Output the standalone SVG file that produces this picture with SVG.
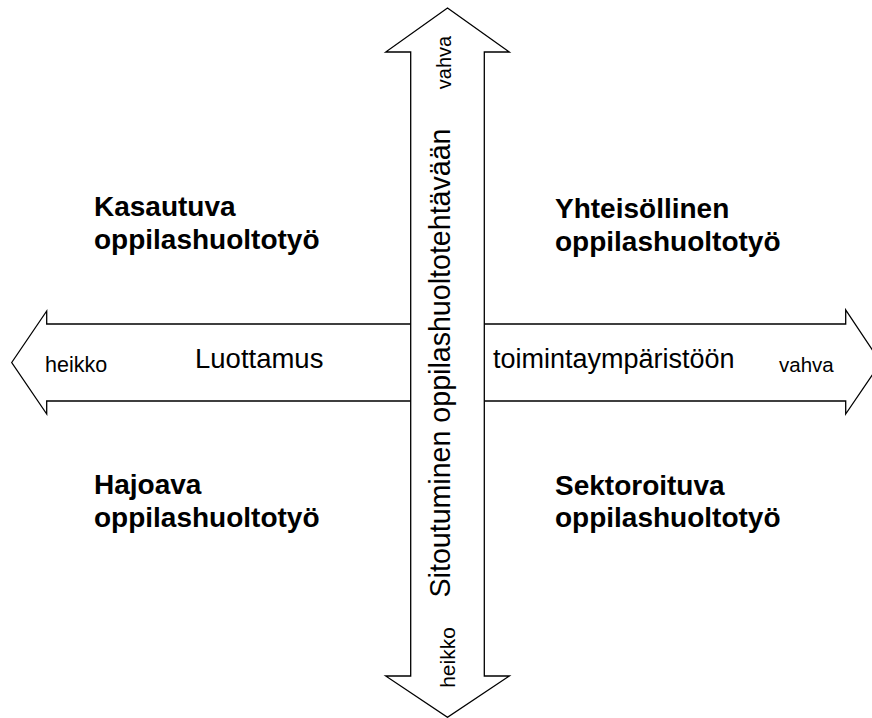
<svg xmlns="http://www.w3.org/2000/svg" width="872" height="718" viewBox="0 0 872 718">
<style>
.arrow{fill:#fff;stroke:#000;stroke-width:1.3;stroke-linejoin:miter}
.t{font-family:"Liberation Sans",Arial,sans-serif;fill:#000}
.q{font-size:28px;font-weight:bold}
.ax{font-size:27px}
.sm{font-size:20px}
</style>
<rect width="872" height="718" fill="#fff"/>
<g id="connectors">
<polygon id="h-arrow" class="arrow" points="11.7,362.5 46.7,311 46.7,324 845.7,324 845.7,310 880.7,362.5 845.7,414 845.7,401 46.7,401 46.7,414"/>
<polygon id="v-arrow" class="arrow" points="447.5,8 509.3,52 484.3,52 484.3,676 509.3,676 447.5,717.3 385.7,676 410.7,676 410.7,52 385.7,52"/>
</g>
<g id="h-axis-labels">
<text class="t sm" x="45" y="372" style="font-size:21.5px">heikko</text>
<text class="t ax" x="195" y="368" style="font-size:27.5px">Luottamus</text>
<text class="t ax" x="493" y="368">toimintaympäristöön</text>
<text class="t sm" x="779" y="372" style="font-size:20.5px">vahva</text>
</g>
<g id="v-axis-labels">
<text class="t ax" text-anchor="middle" transform="translate(450,363) rotate(-90)" style="font-size:28.6px">Sitoutuminen oppilashuoltotehtävään</text>
<text class="t sm" text-anchor="middle" transform="translate(451,62.5) rotate(-90)">vahva</text>
<text class="t sm" text-anchor="middle" transform="translate(455,657.5) rotate(-90)" style="font-size:21px">heikko</text>
</g>
<g id="kasautuva">
<text class="t q" x="94" y="216">Kasautuva</text>
<text class="t q" x="94" y="249">oppilashuoltotyö</text>
</g>
<g id="yhteisollinen">
<text class="t q" x="555" y="218">Yhteisöllinen</text>
<text class="t q" x="555" y="251">oppilashuoltotyö</text>
</g>
<g id="hajoava">
<text class="t q" x="94" y="494">Hajoava</text>
<text class="t q" x="94" y="527">oppilashuoltotyö</text>
</g>
<g id="sektoroituva">
<text class="t q" x="555" y="495">Sektoroituva</text>
<text class="t q" x="555" y="527">oppilashuoltotyö</text>
</g>
</svg>
